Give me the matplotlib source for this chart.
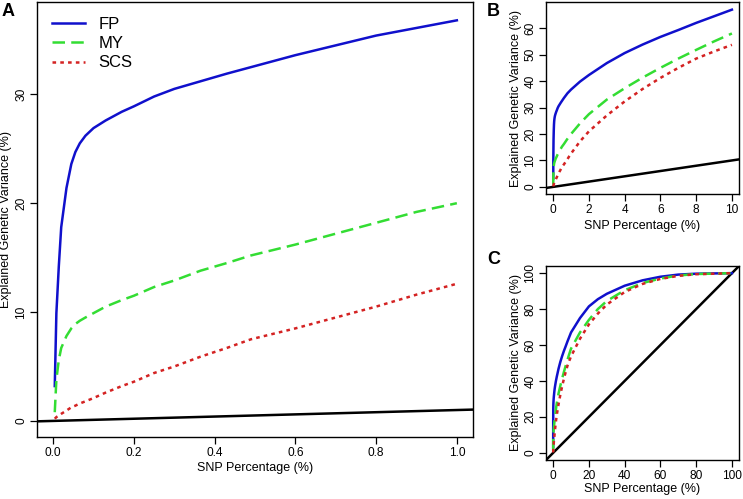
import matplotlib
matplotlib.use('Agg')
import matplotlib.pyplot as plt
import numpy as np

# cumulative explained genetic variance (%) vs top-ranked SNP percentage (%)
snp_pct = [0.004, 0.008, 0.014, 0.020, 0.033, 0.045, 0.055, 0.066, 0.08, 0.10, 0.13, 0.17,
           0.20, 0.25, 0.30, 0.365, 0.43, 0.49, 0.6, 0.7, 0.8, 0.9, 1.0, 1.5, 2, 3, 4, 5,
           6, 7, 8, 9, 10, 15, 20, 25, 30, 40, 50, 60, 70, 80, 100]
fp = [3.2, 9.9, 14.2, 17.8, 21.4, 23.6, 24.7, 25.5, 26.2, 26.9, 27.6, 28.4,
      28.9, 29.8, 30.5, 31.2, 31.9, 32.5, 33.6, 34.5, 35.4, 36.1, 36.8, 39.8, 42.3, 46.8, 50.6, 53.8,
      56.7, 59.3, 62.0, 64.5, 67.0, 75.0, 81.5, 85.5, 88.5, 93.0, 96.0, 98.0, 99.2, 99.7, 100.0]
my = [0.8, 3.8, 5.6, 6.7, 7.8, 8.5, 8.9, 9.2, 9.5, 9.9, 10.5, 11.1,
      11.5, 12.3, 12.9, 13.8, 14.5, 15.2, 16.2, 17.2, 18.2, 19.2, 20.0, 24.0, 27.5, 33.0, 37.3, 41.3,
      45.0, 48.5, 51.8, 55.0, 58.0, 67.0, 74.0, 80.0, 84.5, 90.5, 94.5, 97.0, 98.7, 99.5, 100.0]
scs = [0.2, 0.35, 0.5, 0.65, 0.95, 1.25, 1.4, 1.6, 1.8, 2.1, 2.6, 3.2,
       3.6, 4.4, 5.0, 5.9, 6.7, 7.5, 8.5, 9.5, 10.5, 11.6, 12.6, 17.2, 21.0, 27.0, 32.3, 37.0,
       41.2, 45.0, 48.5, 51.2, 53.7, 63.5, 71.5, 77.5, 82.5, 89.5, 94.0, 96.8, 98.5, 99.4, 100.0]

traits = ['FP', 'MY', 'SCS']
colors = {'FP': '#1010CC', 'MY': '#33DD33', 'SCS': '#D42222'}
styles = {'FP': '-', 'MY': (0, (9.0, 4.5)), 'SCS': (0, (2.6, 3.0))}
values = {'FP': fp, 'MY': my, 'SCS': scs}

plt.rcParams['font.family'] = ['Liberation Sans', 'DejaVu Sans']
plt.rcParams['lines.scale_dashes'] = False

fig = plt.figure(figsize=(7.43, 4.99), dpi=100)
ax_a = fig.add_axes([0.0498, 0.1242, 0.5868, 0.8717])
ax_b = fig.add_axes([0.7349, 0.6112, 0.2598, 0.3848])
ax_c = fig.add_axes([0.7349, 0.0782, 0.2598, 0.3888])

panels = [
    (ax_a, 1.0, (-0.04, 1.04), (-1.48, 38.48), np.arange(0, 1.01, 0.2), [0, 10, 20, 30], '%.1f',
     -0.057, -0.057),
    (ax_b, 10.0, (-0.4, 10.4), (-2.69, 69.9), np.arange(0, 11, 2), np.arange(0, 61, 10), '%d',
     -0.124, -0.137),
    (ax_c, 100.0, (-4, 104), (-4, 104), np.arange(0, 101, 20), np.arange(0, 101, 20), '%d',
     -0.124, -0.12),
]

x = np.array(snp_pct)
for ax, xmax, xl, yl, xt, yt, fmt, ylab_x, xlab_y in panels:
    keep = x <= xmax
    ax.axline((0, 0), slope=1, color='black', lw=1.8, zorder=1)
    for t in traits:
        ax.plot(x[keep], np.array(values[t])[keep], color=colors[t], linestyle=styles[t],
                lw=1.8, label=t, zorder=2)
    ax.set_xlim(*xl)
    ax.set_ylim(*yl)
    ax.set_xticks(xt)
    ax.set_xticklabels([fmt % v for v in xt])
    ax.set_yticks(yt)
    ax.set_yticklabels(['%d' % v for v in yt], rotation=90, va='center')
    ax.tick_params(length=5, width=0.9, labelsize=8.6, pad=2)
    for s in ax.spines.values():
        s.set_linewidth(1.0)
    ax.set_xlabel('SNP Percentage (%)', fontsize=9)
    ax.set_ylabel('Explained Genetic Variance (%)', fontsize=9)
    ax.xaxis.set_label_coords(0.5, xlab_y)
    ax.yaxis.set_label_coords(ylab_x, 0.5)

ax_a.legend(loc='upper left', bbox_to_anchor=(0.0, 1.0), frameon=False, fontsize=12,
            handlelength=2.0, handletextpad=0.8, labelspacing=0.25, borderaxespad=0.5)

fig.text(2 / 743, 1 - 12 / 499, 'A', fontsize=13, fontweight='bold', va='center', ha='left')
fig.text(487 / 743, 1 - 12 / 499, 'B', fontsize=13, fontweight='bold', va='center', ha='left')
fig.text(487 / 743, 1 - 260 / 499, 'C', fontsize=13, fontweight='bold', va='center', ha='left')

fig.savefig('out.png', dpi=100)
